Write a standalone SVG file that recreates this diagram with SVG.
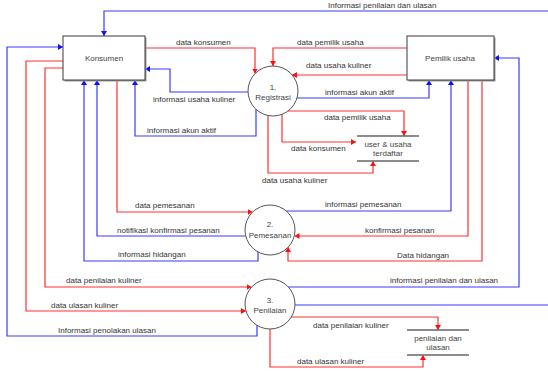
<svg xmlns="http://www.w3.org/2000/svg" width="548" height="371" viewBox="0 0 548 371">
<style>
text{font-family:"Liberation Sans",Arial,sans-serif;font-size:8px;fill:#333}
.n{text-anchor:middle;fill:#444}
.r{fill:none;stroke:#ff3030;stroke-width:1.2}
.b{fill:none;stroke:#3a3aff;stroke-width:1.2}
.r.e{marker-end:url(#ar)}
.b.e{marker-end:url(#ab)}
.box{fill:#fff;stroke:#3a3a3a;stroke-width:1}
.sh{fill:#9a9a9a}
.proc{fill:#fff;stroke:#555;stroke-width:1}
.st{stroke:#666;stroke-width:1.3}
</style>
<defs>
<marker id="ar" markerUnits="userSpaceOnUse" markerWidth="6" markerHeight="6" refX="5" refY="3" orient="auto"><path d="M0,0 L5,3 L0,6 Z" fill="#ff1010"/></marker>
<marker id="ab" markerUnits="userSpaceOnUse" markerWidth="6" markerHeight="6" refX="5" refY="3" orient="auto"><path d="M0,0 L5,3 L0,6 Z" fill="#1010ff"/></marker>
</defs>
<g id="connectors">
<path class="b e" d="M548,11 H104 V36"/>
<path class="b e" d="M257,325 V336 H7 V47 H63"/>
<path class="r e" d="M63,61 H26 V311 H246"/>
<path class="r e" d="M63,68 H45 V287 H251.5"/>
<path class="b e" d="M258,252 V261 H84 V80"/>
<path class="b e" d="M245.5,236 H97 V80"/>
<path class="r e" d="M117,80 V212 H252.5"/>
<path class="b e" d="M256,109 V136 H135 V80"/>
<path class="r e" d="M145,48 H255 V73.5"/>
<path class="b e" d="M248,92 H170 V69 H145"/>
<path class="r e" d="M407,48 H273 V66"/>
<path class="r e" d="M407,75 H292"/>
<path class="b e" d="M297,98 H429 V80"/>
<path class="b e" d="M286,211 H451 V80"/>
<path class="r e" d="M468,80 V236 H294.5"/>
<path class="r e" d="M482,80 V261 H288 V247"/>
<path class="b e" d="M288,287 H519 V58 H494"/>
<path class="b" d="M295,305 H548"/>
<path class="r e" d="M288,111 H404 V136"/>
<path class="r e" d="M282,114 V142 H356"/>
<path class="r e" d="M268,115.5 V173 H373 V161"/>
<path class="r e" d="M291,317 H438 V330"/>
<path class="r e" d="M270,329 V367 H423 V355"/>
<text x="328" y="7.5">Informasi penilaian dan ulasan</text>
<text x="58" y="333">Informasi penolakan ulasan</text>
<text x="51" y="308">data ulasan kuliner</text>
<text x="66" y="283">data penilaian kuliner</text>
<text x="118" y="257">informasi hidangan</text>
<text x="117" y="233">notifikasi konfirmasi pesanan</text>
<text x="135" y="208">data pemesanan</text>
<text x="147" y="133">informasi akun aktif</text>
<text x="176" y="45">data konsumen</text>
<text x="153" y="102">informasi usaha kuliner</text>
<text x="297" y="45">data pemilik usaha</text>
<text x="306" y="68">data usaha kuliner</text>
<text x="325" y="95">informasi akun aktif</text>
<text x="325" y="207">informasi pemesanan</text>
<text x="365" y="233">konfirmasi pesanan</text>
<text x="397" y="258">Data hidangan</text>
<text x="390" y="283">informasi penilaian dan ulasan</text>
<text x="324" y="120">data pemilik usaha</text>
<text x="291" y="151">data konsumen</text>
<text x="262" y="183">data usaha kuliner</text>
<text x="313" y="328">data penilaian kuliner</text>
<text x="297" y="364">data ulasan kuliner</text>
</g>
<g id="konsumen">
<rect class="sh" x="64.5" y="37.5" width="82" height="44"/>
<rect class="box" x="63" y="36" width="82" height="44"/>
<text class="n" x="104" y="61">Konsumen</text>
</g>
<g id="pemilik">
<rect class="sh" x="408.5" y="37.5" width="87" height="44"/>
<rect class="box" x="407" y="36" width="87" height="44"/>
<text class="n" x="450" y="61">Pemilik usaha</text>
</g>
<g id="registrasi">
<circle class="proc" cx="273" cy="91" r="25"/>
<text class="n" x="273" y="90">1.</text>
<text class="n" x="273" y="100">Registrasi</text>
</g>
<g id="pemesanan">
<circle class="proc" cx="270" cy="230" r="25"/>
<text class="n" x="270" y="227">2.</text>
<text class="n" x="270" y="238">Pemesanan</text>
</g>
<g id="penilaian">
<circle class="proc" cx="270" cy="304" r="25"/>
<text class="n" x="270" y="303">3.</text>
<text class="n" x="270" y="313">Penilaian</text>
</g>
<g id="store-user">
<line class="st" x1="357" y1="136" x2="419" y2="136"/>
<line class="st" x1="357" y1="161" x2="419" y2="161"/>
<text class="n" x="388" y="147">user &amp; usaha</text>
<text class="n" x="388" y="156">terdaftar</text>
</g>
<g id="store-penilaian">
<line class="st" x1="407" y1="330" x2="469" y2="330"/>
<line class="st" x1="407" y1="355" x2="469" y2="355"/>
<text class="n" x="438" y="341">penilaian dan</text>
<text class="n" x="438" y="350">ulasan</text>
</g>
</svg>
